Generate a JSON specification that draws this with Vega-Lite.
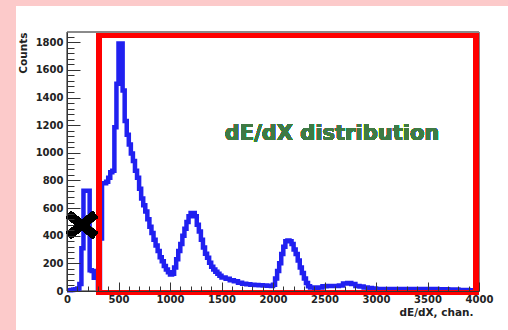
{
  "$schema": "https://vega.github.io/schema/vega-lite/v6.json",
  "width": 412,
  "height": 259,
  "autosize": {"type": "none"},
  "padding": {"left": 67, "top": 32, "right": 29, "bottom": 39},
  "background": "#fccaca",
  "config": {
    "view": {"stroke": null},
    "font": "DejaVu Sans",
    "axis": {
      "labelFont": "DejaVu Sans",
      "labelFontWeight": "bold",
      "labelFontSize": 10,
      "labelColor": "#222",
      "tickColor": "#333",
      "domainColor": "#333",
      "grid": false,
      "titleFont": "DejaVu Sans",
      "titleFontWeight": "bold",
      "titleFontSize": 10.5,
      "titleColor": "#222"
    }
  },
  "data": {
    "values": [
      {"x": 0, "y": 5}, {"x": 20, "y": 5}, {"x": 40, "y": 8}, {"x": 60, "y": 10}, {"x": 80, "y": 12},
      {"x": 100, "y": 18}, {"x": 120, "y": 50}, {"x": 140, "y": 310}, {"x": 160, "y": 725}, {"x": 180, "y": 725},
      {"x": 200, "y": 725}, {"x": 220, "y": 150}, {"x": 240, "y": 145}, {"x": 260, "y": 95}, {"x": 280, "y": 95},
      {"x": 300, "y": 20}, {"x": 320, "y": 380}, {"x": 340, "y": 780}, {"x": 360, "y": 780}, {"x": 380, "y": 790},
      {"x": 400, "y": 820}, {"x": 420, "y": 860}, {"x": 440, "y": 870}, {"x": 460, "y": 1185}, {"x": 480, "y": 1500},
      {"x": 500, "y": 1790}, {"x": 520, "y": 1790}, {"x": 540, "y": 1450}, {"x": 560, "y": 1230}, {"x": 580, "y": 1130},
      {"x": 600, "y": 1060}, {"x": 620, "y": 995}, {"x": 640, "y": 940}, {"x": 660, "y": 870}, {"x": 680, "y": 820},
      {"x": 700, "y": 740}, {"x": 720, "y": 670}, {"x": 740, "y": 620}, {"x": 760, "y": 575}, {"x": 780, "y": 520},
      {"x": 800, "y": 465}, {"x": 820, "y": 420}, {"x": 840, "y": 370}, {"x": 860, "y": 330}, {"x": 880, "y": 290},
      {"x": 900, "y": 245}, {"x": 920, "y": 215}, {"x": 940, "y": 180}, {"x": 960, "y": 155}, {"x": 980, "y": 135},
      {"x": 1000, "y": 120}, {"x": 1020, "y": 125}, {"x": 1040, "y": 170}, {"x": 1060, "y": 230}, {"x": 1080, "y": 290},
      {"x": 1100, "y": 340}, {"x": 1120, "y": 400}, {"x": 1140, "y": 450}, {"x": 1160, "y": 500}, {"x": 1180, "y": 540},
      {"x": 1200, "y": 565}, {"x": 1220, "y": 565}, {"x": 1240, "y": 540}, {"x": 1260, "y": 480}, {"x": 1280, "y": 430},
      {"x": 1300, "y": 370}, {"x": 1320, "y": 315}, {"x": 1340, "y": 270}, {"x": 1360, "y": 240}, {"x": 1380, "y": 205},
      {"x": 1400, "y": 175}, {"x": 1420, "y": 155}, {"x": 1440, "y": 140}, {"x": 1460, "y": 125}, {"x": 1480, "y": 110},
      {"x": 1500, "y": 98}, {"x": 1540, "y": 88}, {"x": 1580, "y": 78}, {"x": 1620, "y": 70}, {"x": 1660, "y": 60},
      {"x": 1700, "y": 52}, {"x": 1740, "y": 48}, {"x": 1780, "y": 46}, {"x": 1820, "y": 44}, {"x": 1860, "y": 42},
      {"x": 1900, "y": 40}, {"x": 1940, "y": 38}, {"x": 1980, "y": 36}, {"x": 2000, "y": 45}, {"x": 2020, "y": 90},
      {"x": 2040, "y": 145}, {"x": 2060, "y": 200}, {"x": 2080, "y": 268}, {"x": 2100, "y": 320}, {"x": 2120, "y": 360},
      {"x": 2140, "y": 365}, {"x": 2160, "y": 360}, {"x": 2180, "y": 340}, {"x": 2200, "y": 300}, {"x": 2220, "y": 268},
      {"x": 2240, "y": 220}, {"x": 2260, "y": 170}, {"x": 2280, "y": 130}, {"x": 2300, "y": 90}, {"x": 2320, "y": 58},
      {"x": 2340, "y": 35}, {"x": 2360, "y": 25}, {"x": 2400, "y": 22}, {"x": 2440, "y": 25}, {"x": 2480, "y": 35},
      {"x": 2520, "y": 36}, {"x": 2560, "y": 36}, {"x": 2600, "y": 36}, {"x": 2640, "y": 40}, {"x": 2680, "y": 55},
      {"x": 2720, "y": 58}, {"x": 2760, "y": 50}, {"x": 2800, "y": 36}, {"x": 2840, "y": 33}, {"x": 2880, "y": 25},
      {"x": 2920, "y": 22}, {"x": 2960, "y": 18}, {"x": 3000, "y": 15}, {"x": 3200, "y": 15}, {"x": 3400, "y": 15},
      {"x": 3600, "y": 12}, {"x": 3700, "y": 10}, {"x": 3800, "y": 8}, {"x": 3900, "y": 6}, {"x": 3960, "y": 5},
      {"x": 4000, "y": 5}
    ]
  },
  "layer": [
    {
      "mark": {"type": "rect", "fill": "white", "stroke": null},
      "encoding": {
        "x": {
          "datum": -495, "type": "quantitative",
          "scale": {"domain": [0, 4000], "nice": false, "zero": false},
          "axis": {
            "zindex": 1,
            "tickCount": 200,
            "values": [0,100,200,300,400,500,600,700,800,900,1000,1100,1200,1300,1400,1500,1600,1700,1800,1900,2000,2100,2200,2300,2400,2500,2600,2700,2800,2900,3000,3100,3200,3300,3400,3500,3600,3700,3800,3900,4000],
            "format": "d",
            "labelExpr": "datum.value % 500 === 0 ? datum.label : ''",
            "labelOverlap": false,
            "labelFlush": false,
            "labelBound": false,
            "labelPadding": 12,
            "tickSize": {"condition": {"test": "datum.value % 500 === 0", "value": -9}, "value": -5},
            "title": "dE/dX, chan.",
            "titleAnchor": "end",
            "titleAlign": "right",
            "titleBaseline": "top",
            "titleX": 406,
            "titleY": 16
          }
        },
        "x2": {"datum": 4600},
        "y": {
          "datum": 2062, "type": "quantitative",
          "scale": {"domain": [0, 1874], "nice": false, "zero": false},
          "axis": {
            "zindex": 1,
            "tickCount": 200,
            "values": [0,40,80,120,160,200,240,280,320,360,400,440,480,520,560,600,640,680,720,760,800,840,880,920,960,1000,1040,1080,1120,1160,1200,1240,1280,1320,1360,1400,1440,1480,1520,1560,1600,1640,1680,1720,1760,1800,1840],
            "format": "d",
            "labelExpr": "datum.value % 200 === 0 ? datum.label : ''",
            "labelOverlap": false,
            "labelFlush": false,
            "labelBound": false,
            "labelPadding": 17,
            "tickSize": {"condition": {"test": "datum.value % 200 === 0", "value": -13}, "value": -7},
            "title": "Counts",
            "titleAnchor": "end",
            "titleAlign": "right",
            "titleBaseline": "middle",
            "titleAngle": -90,
            "titleX": -44,
            "titleY": 0
          }
        },
        "y2": {"datum": -600}
      }
    },
    {
      "mark": {"type": "rect", "fill": null, "stroke": "#8a8a8a", "strokeWidth": 1},
      "encoding": {
        "x": {"datum": 0, "type": "quantitative"},
        "x2": {"datum": 4000},
        "y": {"datum": 0, "type": "quantitative"},
        "y2": {"datum": 1874}
      }
    },
    {
      "mark": {"type": "line", "interpolate": "step-after", "color": "#2020f0", "strokeWidth": 4.5, "strokeJoin": "miter"},
      "encoding": {
        "x": {"field": "x", "type": "quantitative"},
        "y": {"field": "y", "type": "quantitative"}
      }
    },
    {
      "mark": {"type": "rect", "fill": null, "stroke": "#ff0000", "strokeWidth": 5},
      "encoding": {
        "x": {"datum": 311, "type": "quantitative"},
        "x2": {"datum": 3967},
        "y": {"datum": -11, "type": "quantitative"},
        "y2": {"datum": 1849}
      }
    },
    {
      "mark": {"type": "rule", "color": "black", "strokeWidth": 8, "strokeCap": "butt"},
      "encoding": {
        "x": {"datum": 15, "type": "quantitative"},
        "x2": {"datum": 275},
        "y": {"datum": 555, "type": "quantitative"},
        "y2": {"datum": 400}
      }
    },
    {
      "mark": {"type": "rule", "color": "black", "strokeWidth": 8, "strokeCap": "butt"},
      "encoding": {
        "x": {"datum": 15, "type": "quantitative"},
        "x2": {"datum": 275},
        "y": {"datum": 400, "type": "quantitative"},
        "y2": {"datum": 555}
      }
    },
    {
      "mark": {"type": "text", "text": "dE/dX distribution", "font": "DejaVu Sans", "fontWeight": "bold", "fontSize": 21, "color": "#3f7a44", "align": "center", "baseline": "middle"},
      "encoding": {
        "x": {"datum": 2573, "type": "quantitative"},
        "y": {"datum": 1136, "type": "quantitative"}
      }
    }
  ]
}
